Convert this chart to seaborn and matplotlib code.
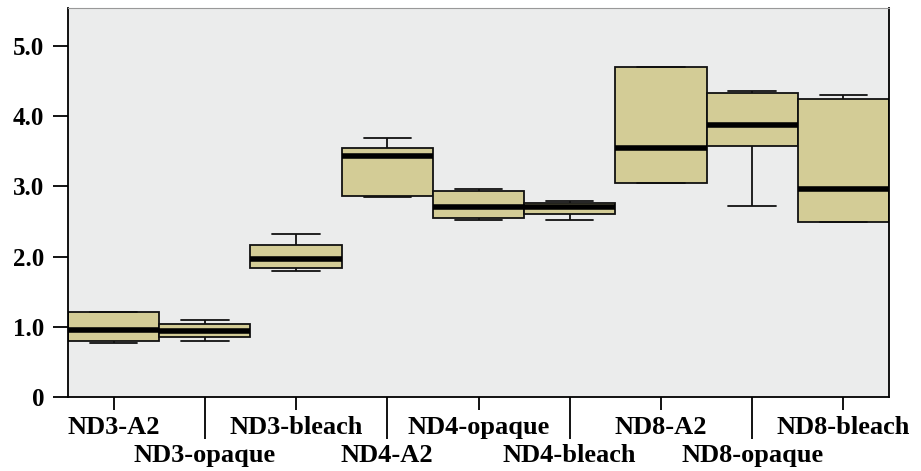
import numpy as np
import pandas as pd
import matplotlib.pyplot as plt
import seaborn as sns

# groups in plot order
groups = ["ND3-A2", "ND3-opaque", "ND3-bleach",
          "ND4-A2", "ND4-opaque", "ND4-bleach",
          "ND8-A2", "ND8-opaque", "ND8-bleach"]

# five values per group: min, q1, median, q3, max
nd3_a2 = [0.77, 0.80, 0.95, 1.21, 1.21]
nd3_opaque = [0.80, 0.85, 0.94, 1.04, 1.10]
nd3_bleach = [1.80, 1.84, 1.97, 2.17, 2.32]
nd4_a2 = [2.85, 2.87, 3.43, 3.55, 3.69]
nd4_opaque = [2.52, 2.55, 2.70, 2.93, 2.96]
nd4_bleach = [2.52, 2.60, 2.71, 2.77, 2.79]
nd8_a2 = [3.05, 3.05, 3.55, 4.70, 4.70]
nd8_opaque = [2.72, 3.58, 3.87, 4.33, 4.36]
nd8_bleach = [2.49, 2.49, 2.96, 4.25, 4.30]

values = [nd3_a2, nd3_opaque, nd3_bleach, nd4_a2, nd4_opaque,
          nd4_bleach, nd8_a2, nd8_opaque, nd8_bleach]

y_ticks = [0, 1, 2, 3, 4, 5]
y_labels = ["0", "1.0", "2.0", "3.0", "4.0", "5.0"]

df = pd.DataFrame({
    "group": np.repeat(groups, 5),
    "value": np.concatenate(values),
})

sns.set_style("white")
plt.rcParams["font.family"] = ["Liberation Serif", "DejaVu Serif"]
plt.rcParams["font.weight"] = "bold"

fig = plt.figure(figsize=(9.21, 4.71), dpi=100)
ax = fig.add_axes([0.0738, 0.157, 0.8915, 0.826])
ax.set_facecolor("#ebecec")

sns.boxplot(
    data=df, x="group", y="value", order=groups,
    width=1.0, whis=np.inf, color="#d3cc96", saturation=1,
    linecolor="#111111", linewidth=1.3,
    medianprops={"color": "black", "linewidth": 4},
    ax=ax,
)

# shorter caps
for line in ax.lines:
    xd = np.asarray(line.get_xdata(), dtype=float)
    yd = np.asarray(line.get_ydata(), dtype=float)
    if len(xd) == 2 and yd[0] == yd[1] and abs(xd[1] - xd[0]) < 0.9:
        c = xd.mean()
        line.set_xdata([c - 0.26, c + 0.26])

ax.set_xlim(-0.5, 8.5)
ax.set_ylim(0, 5.54)
ax.set_yticks(y_ticks, y_labels)
ax.set_xlabel("")
ax.set_ylabel("")

# staggered labels: even positions on top row, odd on bottom row
pos = np.arange(len(groups))
ax.set_xticks(pos[::2], groups[::2])
ax.set_xticks(pos[1::2], groups[1::2], minor=True)
ax.tick_params(axis="x", which="major", length=9.5, width=1.3, pad=4,
               labelsize=19, colors="black", bottom=True)
ax.tick_params(axis="x", which="minor", length=30, width=1.3, pad=3.5,
               labelsize=19, colors="black", bottom=True)
ax.tick_params(axis="y", length=11, width=1.3, pad=6, labelsize=18,
               colors="black", left=True)
for lab in ax.get_xticklabels(minor=True) + ax.get_xticklabels() + ax.get_yticklabels():
    lab.set_fontweight("bold")

for side in ["left", "right", "bottom"]:
    ax.spines[side].set_color("black")
    ax.spines[side].set_linewidth(1.3)
ax.spines["top"].set_color("#999999")
ax.spines["top"].set_linewidth(0.8)

fig.savefig("out.png", dpi=100)
